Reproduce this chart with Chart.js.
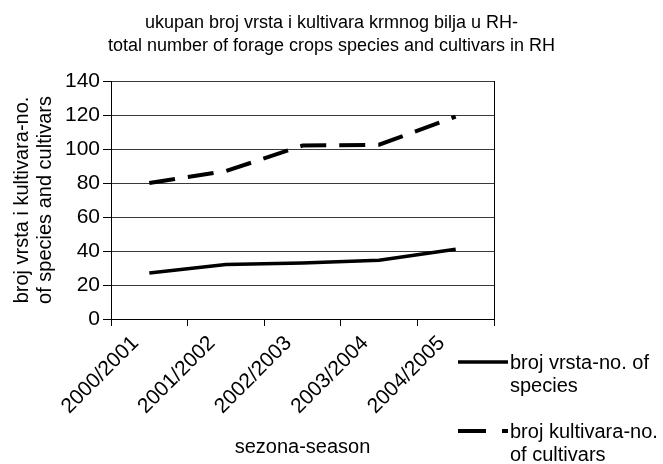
<!DOCTYPE html>
<html>
<head>
<meta charset="utf-8">
<script src="https://cdn.jsdelivr.net/npm/chart.js@4"></script>
<style>
  html, body { margin: 0; padding: 0; background: #fff; }
  #wrap { width: 663px; height: 464px; }
</style>
</head>
<body>
<div id="wrap"><canvas id="forageChart" width="663" height="464"></canvas></div>
<script>
const seasons = ['2000/2001', '2001/2002', '2002/2003', '2003/2004', '2004/2005'];
const speciesCount = [27, 32, 33, 34.5, 41];
const cultivarCount = [80, 87, 102, 102.5, 119];
const yTicks = [0, 20, 40, 60, 80, 100, 120, 140];
const legendLines = [
  ['broj vrsta-no. of', 'species'],
  ['broj kultivara-no.', 'of cultivars']
];

Chart.defaults.font.family = "'Liberation Sans', Arial, sans-serif";
Chart.defaults.color = '#000';

// legend drawn in the empty space right of the plot
const sideLegend = {
  id: 'sideLegend',
  afterDraw(chart) {
    const ctx = chart.ctx;
    const area = chart.chartArea;
    ctx.save();
    ctx.font = "20px 'Liberation Sans', Arial, sans-serif";
    ctx.fillStyle = '#000';
    ctx.textBaseline = 'middle';
    chart.data.datasets.forEach((ds, i) => {
      const y = area.bottom + 43 + i * 69;
      const x0 = area.right - 36;
      const x1 = area.right + 14;
      ctx.strokeStyle = ds.borderColor;
      ctx.lineWidth = ds.borderWidth;
      ctx.setLineDash(ds.borderDash ? [28, 16] : []);
      ctx.beginPath();
      ctx.moveTo(x0, y);
      ctx.lineTo(x1, y);
      ctx.stroke();
      ctx.setLineDash([]);
      legendLines[i].forEach((t, j) => {
        ctx.fillText(t, x1 + 2, y + 1 + j * 23);
      });
    });
    ctx.restore();
  }
};

const ctx = document.getElementById('forageChart').getContext('2d');
const chart = new Chart(ctx, {
  type: 'line',
  data: {
    labels: seasons,
    datasets: [
      {
        label: legendLines[0].join(' '),
        data: speciesCount,
        borderColor: '#000',
        borderWidth: 3.5,
        pointRadius: 0,
        tension: 0,
        fill: false
      },
      {
        label: legendLines[1].join(' '),
        data: cultivarCount,
        borderColor: '#000',
        borderWidth: 4,
        borderDash: [26, 13],
        pointRadius: 0,
        tension: 0,
        fill: false
      }
    ]
  },
  options: {
    responsive: false,
    animation: false,
    layout: { padding: 0 },
    plugins: {
      legend: { display: false },
      tooltip: { enabled: false },
      title: {
        display: true,
        text: ['ukupan broj vrsta i kultivara krmnog bilja u RH-', 'total number of forage crops species and cultivars in RH'],
        font: { size: 18, weight: 'normal', lineHeight: 23 / 18 },
        color: '#000',
        padding: { top: 11.5, bottom: 23.5 }
      }
    },
    scales: {
      x: {
        offset: true,
        grid: {
          offset: true,
          drawOnChartArea: false,
          tickLength: 7,
          tickColor: '#000'
        },
        border: { color: '#000', width: 1 },
        ticks: {
          autoSkip: false,
          minRotation: 45,
          maxRotation: 45,
          padding: 5,
          labelOffset: -14,
          font: { size: 21 }
        },
        title: {
          display: true,
          text: 'sezona-season',
          font: { size: 20, lineHeight: 23 / 20 },
          padding: { top: 0, bottom: 5.5 }
        },
        afterFit(scale) { scale.height = 145; }
      },
      y: {
        min: 0,
        max: 140,
        afterBuildTicks(scale) { scale.ticks = yTicks.map(v => ({ value: v })); },
        grid: {
          color: '#3a3a3a',
          tickLength: 8,
          tickColor: '#000'
        },
        border: { color: '#000', width: 1 },
        ticks: { padding: 3, font: { size: 21 } },
        title: {
          display: true,
          text: ['broj vrsta i kultivara-no.', 'of species and cultivars'],
          font: { size: 20, lineHeight: 23 / 20 },
          padding: { top: 11, bottom: 0 }
        },
        afterFit(scale) { scale.width = 111; }
      },
      // empty right-hand axis: reserves room for the legend and draws the frame's right edge
      frame: {
        type: 'linear',
        position: 'right',
        display: true,
        min: 0,
        max: 140,
        grid: { drawOnChartArea: false, drawTicks: false },
        border: { color: '#000', width: 1 },
        ticks: { display: false },
        afterFit(scale) { scale.width = 169; }
      }
    }
  },
  plugins: [sideLegend]
});
</script>
</body>
</html>
